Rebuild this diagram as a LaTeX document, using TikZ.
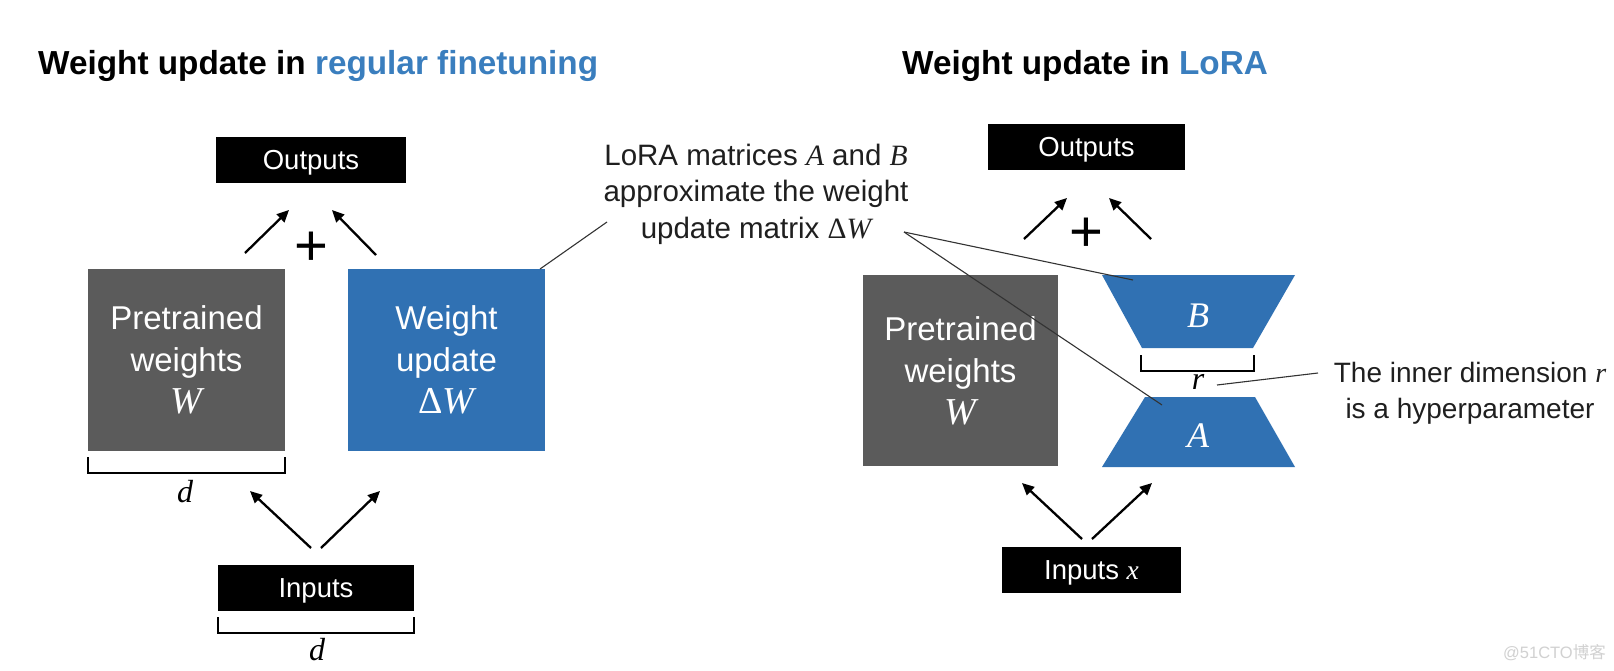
\documentclass[tikz,border=0pt]{standalone}
\usepackage{fontspec}
\setmainfont{Liberation Sans}
\newfontfamily\serifmath{Liberation Serif}
\newfontfamily\cjkfont{Noto Sans CJK SC}
\usetikzlibrary{arrows.meta}
\definecolor{grayW}{HTML}{5B5B5B}
\definecolor{loraBlue}{HTML}{3071B3}
\definecolor{titleBlue}{HTML}{3A7EBE}
\newcommand{\mi}[1]{{\serifmath\itshape #1}}
\newcommand{\mdelta}{{\serifmath Δ}}
\newcommand{\setfs}[2]{\fontsize{#1}{#2}\selectfont}
\begin{document}
\begin{tikzpicture}[x=1pt,y=-1pt,
  title/.style={font=\setfs{33.3}{40}\bfseries, anchor=base west, inner sep=0pt},
  blackbox/.style={fill=black, text=white, inner sep=0pt, minimum height=46pt,
    text height=19.5pt, text depth=0pt, font=\setfs{27.5}{27.5}},
  matbox/.style={inner sep=0pt, text=white, align=center, font=\setfs{33}{42}},
  plus/.style={font=\setfs{58}{58}, inner sep=0pt},
  arr/.style={-{Triangle[length=12pt,width=11pt]}, line width=2.3pt},
  leader/.style={draw=black!80, line width=1.1pt},
  brk/.style={line width=2pt},
  note/.style={align=center, font=\setfs{29.5}{36.5}, text=black!88, inner sep=0pt},
  lbl/.style={inner sep=0pt, font=\setfs{32}{32}},
  trap/.style={fill=loraBlue}
]
\useasboundingbox[fill=white] (0,0) rectangle (1614,670);

% ---------- titles
\node[title] (tL) at (38,74) {Weight update in \textcolor{titleBlue}{regular finetuning}};
\node[title] (tR) at (902,74) {Weight update in \textcolor{titleBlue}{LoRA}};

% ---------- left: regular finetuning
\node[blackbox, minimum width=190pt] (outL) at (311,160) {Outputs};
\node[plus] (plusL) at (311,249) {+};
\node[matbox, fill=grayW, minimum width=197pt, minimum height=182pt] (pwL) at (186.5,360)
  {Pretrained\\weights\\{\setfs{38}{42}\mi{W}}};
\node[matbox, fill=loraBlue, minimum width=197pt, minimum height=182pt] (dwL) at (446.5,360)
  {Weight\\update\\{\setfs{38}{42}\mdelta\mi{W}}};
\draw[brk] ([yshift=-6pt]pwL.south west) -- ++(0,16) -| ([yshift=-6pt]pwL.south east);
\node[lbl] (dL1) at (185,492) {\mi{d}};

\node[blackbox, minimum width=196pt] (inL) at (316,588) {Inputs};
\draw[brk] ([yshift=-6pt]inL.south west) -- ++(0,16) -| ([yshift=-6pt]inL.south east);
\node[lbl] (dL2) at (317,650) {\mi{d}};

\coordinate (uL1t) at (245,253); \coordinate (uL1h) at (289,210);
\coordinate (uL2t) at (376,255); \coordinate (uL2h) at (332,210);
\draw[arr] (uL1t) -- (uL1h);
\draw[arr] (uL2t) -- (uL2h);
\coordinate (lL1t) at (311,548); \coordinate (lL1h) at (250,491);
\coordinate (lL2t) at (321,548); \coordinate (lL2h) at (380,491);
\draw[arr] (lL1t) -- (lL1h);
\draw[arr] (lL2t) -- (lL2h);

% ---------- middle annotation
\node[note] (noteAB) at (756,194)
  {LoRA matrices \mi{A} and \mi{B}\\approximate the weight\\update matrix \mdelta\mi{W}};
\coordinate (ldL) at (540,269);
\coordinate (ldLend) at (607,222);
\draw[leader] (ldL) -- (ldLend);
\coordinate (ldR) at (904,232);

% ---------- right: LoRA
\node[blackbox, minimum width=197pt] (outR) at (1086.5,147) {Outputs};
\node[plus] (plusR) at (1086,235) {+};
\coordinate (uR1t) at (1024,239); \coordinate (uR1h) at (1067,198);
\coordinate (uR2t) at (1151,239); \coordinate (uR2h) at (1109,198);
\draw[arr] (uR1t) -- (uR1h);
\draw[arr] (uR2t) -- (uR2h);

\node[matbox, fill=grayW, minimum width=195pt, minimum height=191pt] (pwR) at (960.5,370.5)
  {Pretrained\\weights\\{\setfs{38}{42}\mi{W}}};

\coordinate (B1) at (1102,275); \coordinate (B2) at (1295,275);
\coordinate (B3) at (1253,348); \coordinate (B4) at (1142,348);
\fill[trap] (B1) -- (B2) -- (B3) -- (B4) -- cycle;
\node[lbl, text=white, font=\setfs{36}{36}] (Blbl) at (1198,316) {\mi{B}};

\coordinate (A1) at (1145,397); \coordinate (A2) at (1255,397);
\coordinate (A3) at (1295,467); \coordinate (A4) at (1102,467);
\fill[trap] (A1) -- (A2) -- (A3) -- (A4) -- cycle;
\node[lbl, text=white, font=\setfs{36}{36}] (Albl) at (1198,436) {\mi{A}};

\draw[brk] (1141,355) -- (1141,371) -- (1254,371) -- (1254,355);
\node[lbl] (rlbl) at (1198,382) {\mi{r}};

\coordinate (ldB) at (1133,280);
\coordinate (ldA) at (1162,405);
\draw[leader] (ldR) -- (ldB);
\draw[leader] (ldR) -- (ldA);

\node[note, font=\setfs{28}{36}] (noteR) at (1470,393) {The inner dimension \mi{r}\\is a hyperparameter};
\coordinate (lrS) at (1217,385);
\coordinate (lrE) at (1318,373);
\draw[leader] (lrS) -- (lrE);

\node[blackbox, minimum width=179pt] (inR) at (1091.5,570) {Inputs \mi{x}};
\coordinate (lR1t) at (1082,539); \coordinate (lR1h) at (1022,483);
\coordinate (lR2t) at (1092,539); \coordinate (lR2h) at (1152,483);
\draw[arr] (lR1t) -- (lR1h);
\draw[arr] (lR2t) -- (lR2h);

% ---------- watermark
\node[anchor=east, inner sep=0pt, text=black!18, font=\setfs{16.5}{16.5}] (wm) at (1606,653) {@51CTO{\cjkfont 博客}};
\end{tikzpicture}
\end{document}
